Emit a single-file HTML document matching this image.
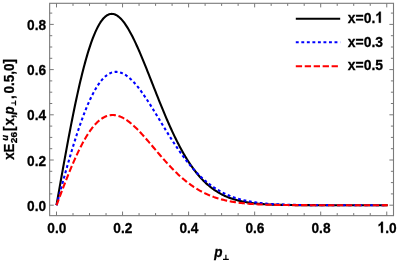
<!DOCTYPE html><html><head><meta charset="utf-8"><style>html,body{margin:0;padding:0;background:#fff}svg{display:block;filter:blur(0.3px)}text{font-family:"Liberation Sans",sans-serif;font-weight:bold;fill:#000;stroke:#000;stroke-width:0.3px}</style></head><body>
<svg width="398" height="262" viewBox="0 0 398 262">
<rect width="398" height="262" fill="#fff"/>
<path d="M56.50,205.20 L57.33,200.49 L58.15,195.78 L58.98,191.08 L59.80,186.39 L60.63,181.71 L61.45,177.05 L62.28,172.41 L63.11,167.78 L63.93,163.19 L64.76,158.62 L65.58,154.08 L66.41,149.57 L67.23,145.11 L68.06,140.68 L68.88,136.29 L69.71,131.95 L70.54,127.66 L71.36,123.42 L72.19,119.23 L73.01,115.10 L73.84,111.03 L74.66,107.01 L75.49,103.06 L76.31,99.18 L77.14,95.37 L77.97,91.62 L78.79,87.95 L79.62,84.35 L80.44,80.82 L81.27,77.38 L82.09,74.01 L82.92,70.73 L83.75,67.53 L84.57,64.41 L85.40,61.38 L86.22,58.44 L87.05,55.59 L87.87,52.82 L88.70,50.15 L89.53,47.57 L90.35,45.08 L91.18,42.69 L92.00,40.39 L92.83,38.18 L93.65,36.08 L94.48,34.06 L95.30,32.15 L96.13,30.33 L96.96,28.60 L97.78,26.98 L98.61,25.45 L99.43,24.02 L100.26,22.68 L101.08,21.45 L101.91,20.30 L102.74,19.26 L103.56,18.31 L104.39,17.45 L105.21,16.69 L106.04,16.02 L106.86,15.45 L107.69,14.97 L108.51,14.57 L109.34,14.27 L110.17,14.06 L110.99,13.93 L111.82,13.89 L112.64,13.94 L113.47,14.07 L114.29,14.28 L115.12,14.57 L115.94,14.95 L116.77,15.40 L117.60,15.93 L118.42,16.53 L119.25,17.21 L120.07,17.95 L120.90,18.77 L121.72,19.66 L122.55,20.61 L123.38,21.63 L124.20,22.71 L125.03,23.86 L125.85,25.06 L126.68,26.32 L127.50,27.63 L128.33,29.00 L129.16,30.42 L129.98,31.89 L130.81,33.40 L131.63,34.96 L132.46,36.57 L133.28,38.22 L134.11,39.91 L134.93,41.63 L135.76,43.39 L136.59,45.19 L137.41,47.02 L138.24,48.87 L139.06,50.76 L139.89,52.67 L140.71,54.61 L141.54,56.57 L142.37,58.55 L143.19,60.55 L144.02,62.57 L144.84,64.61 L145.67,66.65 L146.49,68.71 L147.32,70.79 L148.14,72.87 L148.97,74.95 L149.80,77.05 L150.62,79.14 L151.45,81.24 L152.27,83.35 L153.10,85.45 L153.92,87.55 L154.75,89.65 L155.57,91.74 L156.40,93.83 L157.23,95.91 L158.05,97.98 L158.88,100.05 L159.70,102.10 L160.53,104.15 L161.35,106.18 L162.18,108.20 L163.01,110.20 L163.83,112.19 L164.66,114.16 L165.48,116.12 L166.31,118.06 L167.13,119.98 L167.96,121.88 L168.79,123.76 L169.61,125.62 L170.44,127.46 L171.26,129.28 L172.09,131.08 L172.91,132.85 L173.74,134.60 L174.56,136.33 L175.39,138.03 L176.22,139.71 L177.04,141.36 L177.87,142.99 L178.69,144.60 L179.52,146.17 L180.34,147.73 L181.17,149.25 L182.00,150.75 L182.82,152.23 L183.65,153.68 L184.47,155.10 L185.30,156.49 L186.12,157.86 L186.95,159.21 L187.77,160.52 L188.60,161.81 L189.43,163.08 L190.25,164.32 L191.08,165.53 L191.90,166.71 L192.73,167.87 L193.55,169.01 L194.38,170.12 L195.20,171.20 L196.03,172.26 L196.86,173.29 L197.68,174.30 L198.51,175.29 L199.33,176.25 L200.16,177.19 L200.98,178.10 L201.81,179.00 L202.64,179.86 L203.46,180.71 L204.29,181.53 L205.11,182.33 L205.94,183.11 L206.76,183.87 L207.59,184.61 L208.42,185.33 L209.24,186.03 L210.07,186.70 L210.89,187.36 L211.72,188.00 L212.54,188.62 L213.37,189.22 L214.19,189.81 L215.02,190.37 L215.85,190.92 L216.67,191.46 L217.50,191.97 L218.32,192.47 L219.15,192.95 L219.97,193.42 L220.80,193.88 L221.62,194.31 L222.45,194.74 L223.28,195.15 L224.10,195.54 L224.93,195.93 L225.75,196.30 L226.58,196.65 L227.40,197.00 L228.23,197.33 L229.06,197.65 L229.88,197.96 L230.71,198.26 L231.53,198.55 L232.36,198.83 L233.18,199.10 L234.01,199.36 L234.84,199.60 L235.66,199.84 L236.49,200.07 L237.31,200.29 L238.14,200.51 L238.96,200.71 L239.79,200.91 L240.61,201.10 L241.44,201.28 L242.27,201.46 L243.09,201.62 L243.92,201.78 L244.74,201.94 L245.57,202.09 L246.39,202.23 L247.22,202.37 L248.04,202.50 L248.87,202.62 L249.70,202.74 L250.52,202.86 L251.35,202.97 L252.17,203.07 L253.00,203.18 L253.82,203.27 L254.65,203.36 L255.48,203.45 L256.30,203.54 L257.13,203.62 L257.95,203.70 L258.78,203.77 L259.60,203.84 L260.43,203.91 L261.25,203.97 L262.08,204.03 L262.91,204.09 L263.73,204.15 L264.56,204.20 L265.38,204.25 L266.21,204.30 L267.03,204.35 L267.86,204.39 L268.69,204.43 L269.51,204.47 L270.34,204.51 L271.16,204.55 L271.99,204.58 L272.81,204.62 L273.64,204.65 L274.47,204.68 L275.29,204.70 L276.12,204.73 L276.94,204.76 L277.77,204.78 L278.59,204.80 L279.42,204.83 L280.24,204.85 L281.07,204.87 L281.90,204.88 L282.72,204.90 L283.55,204.92 L284.37,204.93 L285.20,204.95 L286.02,204.96 L286.85,204.98 L287.67,204.99 L288.50,205.00 L289.33,205.01 L290.15,205.02 L290.98,205.03 L291.80,205.04 L292.63,205.05 L293.45,205.06 L294.28,205.07 L295.11,205.08 L295.93,205.08 L296.76,205.09 L297.58,205.10 L298.41,205.10 L299.23,205.11 L300.06,205.12 L300.88,205.12 L301.71,205.13 L302.54,205.13 L303.36,205.13 L304.19,205.14 L305.01,205.14 L305.84,205.15 L306.66,205.15 L307.49,205.15 L308.32,205.16 L309.14,205.16 L309.97,205.16 L310.79,205.16 L311.62,205.17 L312.44,205.17 L313.27,205.17 L314.10,205.17 L314.92,205.17 L315.75,205.18 L316.57,205.18 L317.40,205.18 L318.22,205.18 L319.05,205.18 L319.87,205.18 L320.70,205.18 L321.53,205.18 L322.35,205.19 L323.18,205.19 L324.00,205.19 L324.83,205.19 L325.65,205.19 L326.48,205.19 L327.31,205.19 L328.13,205.19 L328.96,205.19 L329.78,205.19 L330.61,205.19 L331.43,205.19 L332.26,205.19 L333.08,205.19 L333.91,205.19 L334.74,205.19 L335.56,205.20 L336.39,205.20 L337.21,205.20 L338.04,205.20 L338.86,205.20 L339.69,205.20 L340.51,205.20 L341.34,205.20 L342.17,205.20 L342.99,205.20 L343.82,205.20 L344.64,205.20 L345.47,205.20 L346.29,205.20 L347.12,205.20 L347.95,205.20 L348.77,205.20 L349.60,205.20 L350.42,205.20 L351.25,205.20 L352.07,205.20 L352.90,205.20 L353.73,205.20 L354.55,205.20 L355.38,205.20 L356.20,205.20 L357.03,205.20 L357.85,205.20 L358.68,205.20 L359.50,205.20 L360.33,205.20 L361.16,205.20 L361.98,205.20 L362.81,205.20 L363.63,205.20 L364.46,205.20 L365.28,205.20 L366.11,205.20 L366.94,205.20 L367.76,205.20 L368.59,205.20 L369.41,205.20 L370.24,205.20 L371.06,205.20 L371.89,205.20 L372.71,205.20 L373.54,205.20 L374.37,205.20 L375.19,205.20 L376.02,205.20 L376.84,205.20 L377.67,205.20 L378.49,205.20 L379.32,205.20 L380.14,205.20 L380.97,205.20 L381.80,205.20 L382.62,205.20 L383.45,205.20 L384.27,205.20 L385.10,205.20 L385.92,205.20 L386.75,205.20 L387.75,205.20" fill="none" stroke="#000000" stroke-width="2.1" stroke-linejoin="round"/>
<path d="M56.50,205.20 L57.33,202.16 L58.15,199.11 L58.98,196.07 L59.80,193.04 L60.63,190.01 L61.45,186.99 L62.28,183.99 L63.11,180.99 L63.93,178.01 L64.76,175.04 L65.58,172.09 L66.41,169.16 L67.23,166.25 L68.06,163.37 L68.88,160.50 L69.71,157.66 L70.54,154.85 L71.36,152.07 L72.19,149.32 L73.01,146.59 L73.84,143.91 L74.66,141.25 L75.49,138.63 L76.31,136.05 L77.14,133.51 L77.97,131.00 L78.79,128.54 L79.62,126.12 L80.44,123.74 L81.27,121.41 L82.09,119.12 L82.92,116.88 L83.75,114.68 L84.57,112.54 L85.40,110.44 L86.22,108.40 L87.05,106.40 L87.87,104.46 L88.70,102.57 L89.53,100.73 L90.35,98.95 L91.18,97.22 L92.00,95.55 L92.83,93.93 L93.65,92.37 L94.48,90.86 L95.30,89.42 L96.13,88.02 L96.96,86.69 L97.78,85.42 L98.61,84.20 L99.43,83.04 L100.26,81.94 L101.08,80.89 L101.91,79.91 L102.74,78.98 L103.56,78.11 L104.39,77.30 L105.21,76.55 L106.04,75.85 L106.86,75.21 L107.69,74.63 L108.51,74.11 L109.34,73.64 L110.17,73.23 L110.99,72.87 L111.82,72.57 L112.64,72.32 L113.47,72.13 L114.29,71.99 L115.12,71.90 L115.94,71.86 L116.77,71.88 L117.60,71.94 L118.42,72.06 L119.25,72.22 L120.07,72.44 L120.90,72.70 L121.72,73.00 L122.55,73.36 L123.38,73.75 L124.20,74.19 L125.03,74.68 L125.85,75.21 L126.68,75.77 L127.50,76.38 L128.33,77.03 L129.16,77.71 L129.98,78.43 L130.81,79.19 L131.63,79.98 L132.46,80.81 L133.28,81.67 L134.11,82.56 L134.93,83.48 L135.76,84.44 L136.59,85.42 L137.41,86.42 L138.24,87.46 L139.06,88.52 L139.89,89.60 L140.71,90.71 L141.54,91.84 L142.37,92.99 L143.19,94.15 L144.02,95.34 L144.84,96.55 L145.67,97.77 L146.49,99.01 L147.32,100.26 L148.14,101.53 L148.97,102.81 L149.80,104.10 L150.62,105.40 L151.45,106.72 L152.27,108.04 L153.10,109.36 L153.92,110.70 L154.75,112.04 L155.57,113.39 L156.40,114.74 L157.23,116.09 L158.05,117.45 L158.88,118.81 L159.70,120.16 L160.53,121.52 L161.35,122.88 L162.18,124.24 L163.01,125.59 L163.83,126.94 L164.66,128.29 L165.48,129.63 L166.31,130.97 L167.13,132.31 L167.96,133.63 L168.79,134.95 L169.61,136.26 L170.44,137.57 L171.26,138.86 L172.09,140.15 L172.91,141.43 L173.74,142.70 L174.56,143.95 L175.39,145.20 L176.22,146.44 L177.04,147.66 L177.87,148.87 L178.69,150.07 L179.52,151.26 L180.34,152.43 L181.17,153.59 L182.00,154.74 L182.82,155.87 L183.65,156.99 L184.47,158.09 L185.30,159.18 L186.12,160.25 L186.95,161.31 L187.77,162.36 L188.60,163.39 L189.43,164.40 L190.25,165.40 L191.08,166.39 L191.90,167.35 L192.73,168.31 L193.55,169.24 L194.38,170.16 L195.20,171.07 L196.03,171.96 L196.86,172.83 L197.68,173.69 L198.51,174.53 L199.33,175.35 L200.16,176.16 L200.98,176.96 L201.81,177.74 L202.64,178.50 L203.46,179.25 L204.29,179.98 L205.11,180.70 L205.94,181.40 L206.76,182.09 L207.59,182.76 L208.42,183.42 L209.24,184.06 L210.07,184.69 L210.89,185.31 L211.72,185.91 L212.54,186.49 L213.37,187.06 L214.19,187.62 L215.02,188.17 L215.85,188.70 L216.67,189.22 L217.50,189.73 L218.32,190.22 L219.15,190.70 L219.97,191.17 L220.80,191.62 L221.62,192.07 L222.45,192.50 L223.28,192.92 L224.10,193.33 L224.93,193.73 L225.75,194.12 L226.58,194.49 L227.40,194.86 L228.23,195.21 L229.06,195.56 L229.88,195.89 L230.71,196.22 L231.53,196.54 L232.36,196.84 L233.18,197.14 L234.01,197.43 L234.84,197.71 L235.66,197.98 L236.49,198.24 L237.31,198.50 L238.14,198.75 L238.96,198.99 L239.79,199.22 L240.61,199.44 L241.44,199.66 L242.27,199.87 L243.09,200.07 L243.92,200.27 L244.74,200.46 L245.57,200.64 L246.39,200.82 L247.22,200.99 L248.04,201.15 L248.87,201.31 L249.70,201.47 L250.52,201.62 L251.35,201.76 L252.17,201.90 L253.00,202.03 L253.82,202.16 L254.65,202.29 L255.48,202.41 L256.30,202.52 L257.13,202.63 L257.95,202.74 L258.78,202.84 L259.60,202.94 L260.43,203.04 L261.25,203.13 L262.08,203.22 L262.91,203.30 L263.73,203.39 L264.56,203.46 L265.38,203.54 L266.21,203.61 L267.03,203.68 L267.86,203.75 L268.69,203.81 L269.51,203.87 L270.34,203.93 L271.16,203.99 L271.99,204.05 L272.81,204.10 L273.64,204.15 L274.47,204.20 L275.29,204.24 L276.12,204.29 L276.94,204.33 L277.77,204.37 L278.59,204.41 L279.42,204.44 L280.24,204.48 L281.07,204.51 L281.90,204.55 L282.72,204.58 L283.55,204.61 L284.37,204.64 L285.20,204.66 L286.02,204.69 L286.85,204.71 L287.67,204.74 L288.50,204.76 L289.33,204.78 L290.15,204.80 L290.98,204.82 L291.80,204.84 L292.63,204.86 L293.45,204.88 L294.28,204.89 L295.11,204.91 L295.93,204.92 L296.76,204.94 L297.58,204.95 L298.41,204.96 L299.23,204.98 L300.06,204.99 L300.88,205.00 L301.71,205.01 L302.54,205.02 L303.36,205.03 L304.19,205.04 L305.01,205.05 L305.84,205.05 L306.66,205.06 L307.49,205.07 L308.32,205.08 L309.14,205.08 L309.97,205.09 L310.79,205.10 L311.62,205.10 L312.44,205.11 L313.27,205.11 L314.10,205.12 L314.92,205.12 L315.75,205.13 L316.57,205.13 L317.40,205.13 L318.22,205.14 L319.05,205.14 L319.87,205.14 L320.70,205.15 L321.53,205.15 L322.35,205.15 L323.18,205.16 L324.00,205.16 L324.83,205.16 L325.65,205.16 L326.48,205.17 L327.31,205.17 L328.13,205.17 L328.96,205.17 L329.78,205.17 L330.61,205.17 L331.43,205.18 L332.26,205.18 L333.08,205.18 L333.91,205.18 L334.74,205.18 L335.56,205.18 L336.39,205.18 L337.21,205.18 L338.04,205.19 L338.86,205.19 L339.69,205.19 L340.51,205.19 L341.34,205.19 L342.17,205.19 L342.99,205.19 L343.82,205.19 L344.64,205.19 L345.47,205.19 L346.29,205.19 L347.12,205.19 L347.95,205.19 L348.77,205.19 L349.60,205.19 L350.42,205.19 L351.25,205.19 L352.07,205.20 L352.90,205.20 L353.73,205.20 L354.55,205.20 L355.38,205.20 L356.20,205.20 L357.03,205.20 L357.85,205.20 L358.68,205.20 L359.50,205.20 L360.33,205.20 L361.16,205.20 L361.98,205.20 L362.81,205.20 L363.63,205.20 L364.46,205.20 L365.28,205.20 L366.11,205.20 L366.94,205.20 L367.76,205.20 L368.59,205.20 L369.41,205.20 L370.24,205.20 L371.06,205.20 L371.89,205.20 L372.71,205.20 L373.54,205.20 L374.37,205.20 L375.19,205.20 L376.02,205.20 L376.84,205.20 L377.67,205.20 L378.49,205.20 L379.32,205.20 L380.14,205.20 L380.97,205.20 L381.80,205.20 L382.62,205.20 L383.45,205.20 L384.27,205.20 L385.10,205.20 L385.92,205.20 L386.75,205.20" fill="none" stroke="#0000ff" stroke-width="2.1" stroke-dasharray="2.9 2.63" stroke-linejoin="round"/>
<path d="M56.50,205.20 L57.33,203.01 L58.15,200.83 L58.98,198.65 L59.80,196.47 L60.63,194.30 L61.45,192.13 L62.28,189.98 L63.11,187.83 L63.93,185.69 L64.76,183.57 L65.58,181.46 L66.41,179.37 L67.23,177.29 L68.06,175.23 L68.88,173.19 L69.71,171.17 L70.54,169.18 L71.36,167.20 L72.19,165.25 L73.01,163.32 L73.84,161.42 L74.66,159.55 L75.49,157.71 L76.31,155.90 L77.14,154.11 L77.97,152.36 L78.79,150.64 L79.62,148.96 L80.44,147.31 L81.27,145.69 L82.09,144.11 L82.92,142.57 L83.75,141.07 L84.57,139.60 L85.40,138.17 L86.22,136.78 L87.05,135.44 L87.87,134.13 L88.70,132.86 L89.53,131.64 L90.35,130.46 L91.18,129.32 L92.00,128.22 L92.83,127.17 L93.65,126.16 L94.48,125.20 L95.30,124.28 L96.13,123.40 L96.96,122.57 L97.78,121.78 L98.61,121.03 L99.43,120.33 L100.26,119.68 L101.08,119.07 L101.91,118.50 L102.74,117.98 L103.56,117.50 L104.39,117.06 L105.21,116.67 L106.04,116.32 L106.86,116.01 L107.69,115.75 L108.51,115.52 L109.34,115.34 L110.17,115.20 L110.99,115.10 L111.82,115.05 L112.64,115.03 L113.47,115.05 L114.29,115.10 L115.12,115.20 L115.94,115.33 L116.77,115.50 L117.60,115.71 L118.42,115.95 L119.25,116.22 L120.07,116.53 L120.90,116.87 L121.72,117.24 L122.55,117.65 L123.38,118.08 L124.20,118.55 L125.03,119.04 L125.85,119.57 L126.68,120.12 L127.50,120.69 L128.33,121.29 L129.16,121.92 L129.98,122.57 L130.81,123.24 L131.63,123.94 L132.46,124.66 L133.28,125.39 L134.11,126.15 L134.93,126.93 L135.76,127.72 L136.59,128.53 L137.41,129.35 L138.24,130.19 L139.06,131.05 L139.89,131.92 L140.71,132.80 L141.54,133.69 L142.37,134.60 L143.19,135.51 L144.02,136.43 L144.84,137.37 L145.67,138.31 L146.49,139.25 L147.32,140.20 L148.14,141.16 L148.97,142.12 L149.80,143.09 L150.62,144.06 L151.45,145.03 L152.27,146.01 L153.10,146.98 L153.92,147.96 L154.75,148.93 L155.57,149.91 L156.40,150.88 L157.23,151.85 L158.05,152.82 L158.88,153.79 L159.70,154.75 L160.53,155.71 L161.35,156.66 L162.18,157.61 L163.01,158.55 L163.83,159.49 L164.66,160.42 L165.48,161.34 L166.31,162.26 L167.13,163.17 L167.96,164.07 L168.79,164.96 L169.61,165.84 L170.44,166.72 L171.26,167.58 L172.09,168.44 L172.91,169.28 L173.74,170.12 L174.56,170.94 L175.39,171.76 L176.22,172.56 L177.04,173.35 L177.87,174.14 L178.69,174.91 L179.52,175.67 L180.34,176.41 L181.17,177.15 L182.00,177.87 L182.82,178.59 L183.65,179.29 L184.47,179.98 L185.30,180.65 L186.12,181.32 L186.95,181.97 L187.77,182.61 L188.60,183.24 L189.43,183.86 L190.25,184.46 L191.08,185.05 L191.90,185.63 L192.73,186.20 L193.55,186.76 L194.38,187.30 L195.20,187.84 L196.03,188.36 L196.86,188.87 L197.68,189.37 L198.51,189.86 L199.33,190.33 L200.16,190.80 L200.98,191.25 L201.81,191.69 L202.64,192.12 L203.46,192.55 L204.29,192.96 L205.11,193.36 L205.94,193.75 L206.76,194.13 L207.59,194.50 L208.42,194.86 L209.24,195.21 L210.07,195.55 L210.89,195.88 L211.72,196.20 L212.54,196.52 L213.37,196.82 L214.19,197.12 L215.02,197.40 L215.85,197.68 L216.67,197.95 L217.50,198.22 L218.32,198.47 L219.15,198.72 L219.97,198.96 L220.80,199.19 L221.62,199.41 L222.45,199.63 L223.28,199.84 L224.10,200.05 L224.93,200.25 L225.75,200.44 L226.58,200.62 L227.40,200.80 L228.23,200.97 L229.06,201.14 L229.88,201.30 L230.71,201.46 L231.53,201.61 L232.36,201.75 L233.18,201.89 L234.01,202.03 L234.84,202.16 L235.66,202.28 L236.49,202.40 L237.31,202.52 L238.14,202.63 L238.96,202.74 L239.79,202.85 L240.61,202.95 L241.44,203.04 L242.27,203.14 L243.09,203.23 L243.92,203.31 L244.74,203.40 L245.57,203.47 L246.39,203.55 L247.22,203.62 L248.04,203.69 L248.87,203.76 L249.70,203.83 L250.52,203.89 L251.35,203.95 L252.17,204.01 L253.00,204.06 L253.82,204.11 L254.65,204.16 L255.48,204.21 L256.30,204.26 L257.13,204.30 L257.95,204.35 L258.78,204.39 L259.60,204.43 L260.43,204.46 L261.25,204.50 L262.08,204.53 L262.91,204.57 L263.73,204.60 L264.56,204.63 L265.38,204.65 L266.21,204.68 L267.03,204.71 L267.86,204.73 L268.69,204.76 L269.51,204.78 L270.34,204.80 L271.16,204.82 L271.99,204.84 L272.81,204.86 L273.64,204.88 L274.47,204.89 L275.29,204.91 L276.12,204.92 L276.94,204.94 L277.77,204.95 L278.59,204.96 L279.42,204.98 L280.24,204.99 L281.07,205.00 L281.90,205.01 L282.72,205.02 L283.55,205.03 L284.37,205.04 L285.20,205.05 L286.02,205.06 L286.85,205.07 L287.67,205.07 L288.50,205.08 L289.33,205.09 L290.15,205.09 L290.98,205.10 L291.80,205.10 L292.63,205.11 L293.45,205.11 L294.28,205.12 L295.11,205.12 L295.93,205.13 L296.76,205.13 L297.58,205.14 L298.41,205.14 L299.23,205.14 L300.06,205.15 L300.88,205.15 L301.71,205.15 L302.54,205.16 L303.36,205.16 L304.19,205.16 L305.01,205.16 L305.84,205.17 L306.66,205.17 L307.49,205.17 L308.32,205.17 L309.14,205.17 L309.97,205.17 L310.79,205.18 L311.62,205.18 L312.44,205.18 L313.27,205.18 L314.10,205.18 L314.92,205.18 L315.75,205.18 L316.57,205.18 L317.40,205.19 L318.22,205.19 L319.05,205.19 L319.87,205.19 L320.70,205.19 L321.53,205.19 L322.35,205.19 L323.18,205.19 L324.00,205.19 L324.83,205.19 L325.65,205.19 L326.48,205.19 L327.31,205.19 L328.13,205.19 L328.96,205.19 L329.78,205.19 L330.61,205.20 L331.43,205.20 L332.26,205.20 L333.08,205.20 L333.91,205.20 L334.74,205.20 L335.56,205.20 L336.39,205.20 L337.21,205.20 L338.04,205.20 L338.86,205.20 L339.69,205.20 L340.51,205.20 L341.34,205.20 L342.17,205.20 L342.99,205.20 L343.82,205.20 L344.64,205.20 L345.47,205.20 L346.29,205.20 L347.12,205.20 L347.95,205.20 L348.77,205.20 L349.60,205.20 L350.42,205.20 L351.25,205.20 L352.07,205.20 L352.90,205.20 L353.73,205.20 L354.55,205.20 L355.38,205.20 L356.20,205.20 L357.03,205.20 L357.85,205.20 L358.68,205.20 L359.50,205.20 L360.33,205.20 L361.16,205.20 L361.98,205.20 L362.81,205.20 L363.63,205.20 L364.46,205.20 L365.28,205.20 L366.11,205.20 L366.94,205.20 L367.76,205.20 L368.59,205.20 L369.41,205.20 L370.24,205.20 L371.06,205.20 L371.89,205.20 L372.71,205.20 L373.54,205.20 L374.37,205.20 L375.19,205.20 L376.02,205.20 L376.84,205.20 L377.67,205.20 L378.49,205.20 L379.32,205.20 L380.14,205.20 L380.97,205.20 L381.80,205.20 L382.62,205.20 L383.45,205.20 L384.27,205.20 L385.10,205.20 L385.92,205.20 L386.75,205.20" fill="none" stroke="#ff0000" stroke-width="2.1" stroke-dasharray="6.3 2.65" stroke-linejoin="round"/>
<line x1="382.75" y1="205.20" x2="387.75" y2="205.20" stroke="#ff0000" stroke-width="2"/>
<g stroke="#7a7a7a" stroke-width="1.10" fill="none">
<rect x="49.65" y="3.30" width="343.85" height="212.35"/>
</g><g stroke="#787878" stroke-width="1" fill="none">
<line x1="56.50" y1="215.65" x2="56.50" y2="211.55"/>
<line x1="56.50" y1="3.30" x2="56.50" y2="7.40"/>
<line x1="73.01" y1="215.65" x2="73.01" y2="213.05"/>
<line x1="73.01" y1="3.30" x2="73.01" y2="5.90"/>
<line x1="89.53" y1="215.65" x2="89.53" y2="213.05"/>
<line x1="89.53" y1="3.30" x2="89.53" y2="5.90"/>
<line x1="106.04" y1="215.65" x2="106.04" y2="213.05"/>
<line x1="106.04" y1="3.30" x2="106.04" y2="5.90"/>
<line x1="122.55" y1="215.65" x2="122.55" y2="211.55"/>
<line x1="122.55" y1="3.30" x2="122.55" y2="7.40"/>
<line x1="139.06" y1="215.65" x2="139.06" y2="213.05"/>
<line x1="139.06" y1="3.30" x2="139.06" y2="5.90"/>
<line x1="155.58" y1="215.65" x2="155.58" y2="213.05"/>
<line x1="155.58" y1="3.30" x2="155.58" y2="5.90"/>
<line x1="172.09" y1="215.65" x2="172.09" y2="213.05"/>
<line x1="172.09" y1="3.30" x2="172.09" y2="5.90"/>
<line x1="188.60" y1="215.65" x2="188.60" y2="211.55"/>
<line x1="188.60" y1="3.30" x2="188.60" y2="7.40"/>
<line x1="205.11" y1="215.65" x2="205.11" y2="213.05"/>
<line x1="205.11" y1="3.30" x2="205.11" y2="5.90"/>
<line x1="221.62" y1="215.65" x2="221.62" y2="213.05"/>
<line x1="221.62" y1="3.30" x2="221.62" y2="5.90"/>
<line x1="238.14" y1="215.65" x2="238.14" y2="213.05"/>
<line x1="238.14" y1="3.30" x2="238.14" y2="5.90"/>
<line x1="254.65" y1="215.65" x2="254.65" y2="211.55"/>
<line x1="254.65" y1="3.30" x2="254.65" y2="7.40"/>
<line x1="271.16" y1="215.65" x2="271.16" y2="213.05"/>
<line x1="271.16" y1="3.30" x2="271.16" y2="5.90"/>
<line x1="287.68" y1="215.65" x2="287.68" y2="213.05"/>
<line x1="287.68" y1="3.30" x2="287.68" y2="5.90"/>
<line x1="304.19" y1="215.65" x2="304.19" y2="213.05"/>
<line x1="304.19" y1="3.30" x2="304.19" y2="5.90"/>
<line x1="320.70" y1="215.65" x2="320.70" y2="211.55"/>
<line x1="320.70" y1="3.30" x2="320.70" y2="7.40"/>
<line x1="337.21" y1="215.65" x2="337.21" y2="213.05"/>
<line x1="337.21" y1="3.30" x2="337.21" y2="5.90"/>
<line x1="353.73" y1="215.65" x2="353.73" y2="213.05"/>
<line x1="353.73" y1="3.30" x2="353.73" y2="5.90"/>
<line x1="370.24" y1="215.65" x2="370.24" y2="213.05"/>
<line x1="370.24" y1="3.30" x2="370.24" y2="5.90"/>
<line x1="386.75" y1="215.65" x2="386.75" y2="211.55"/>
<line x1="386.75" y1="3.30" x2="386.75" y2="7.40"/>
<line x1="49.65" y1="205.20" x2="53.75" y2="205.20"/>
<line x1="393.50" y1="205.20" x2="389.40" y2="205.20"/>
<line x1="49.65" y1="193.90" x2="52.25" y2="193.90"/>
<line x1="393.50" y1="193.90" x2="390.90" y2="193.90"/>
<line x1="49.65" y1="182.60" x2="52.25" y2="182.60"/>
<line x1="393.50" y1="182.60" x2="390.90" y2="182.60"/>
<line x1="49.65" y1="171.30" x2="52.25" y2="171.30"/>
<line x1="393.50" y1="171.30" x2="390.90" y2="171.30"/>
<line x1="49.65" y1="160.00" x2="53.75" y2="160.00"/>
<line x1="393.50" y1="160.00" x2="389.40" y2="160.00"/>
<line x1="49.65" y1="148.70" x2="52.25" y2="148.70"/>
<line x1="393.50" y1="148.70" x2="390.90" y2="148.70"/>
<line x1="49.65" y1="137.40" x2="52.25" y2="137.40"/>
<line x1="393.50" y1="137.40" x2="390.90" y2="137.40"/>
<line x1="49.65" y1="126.10" x2="52.25" y2="126.10"/>
<line x1="393.50" y1="126.10" x2="390.90" y2="126.10"/>
<line x1="49.65" y1="114.80" x2="53.75" y2="114.80"/>
<line x1="393.50" y1="114.80" x2="389.40" y2="114.80"/>
<line x1="49.65" y1="103.50" x2="52.25" y2="103.50"/>
<line x1="393.50" y1="103.50" x2="390.90" y2="103.50"/>
<line x1="49.65" y1="92.20" x2="52.25" y2="92.20"/>
<line x1="393.50" y1="92.20" x2="390.90" y2="92.20"/>
<line x1="49.65" y1="80.90" x2="52.25" y2="80.90"/>
<line x1="393.50" y1="80.90" x2="390.90" y2="80.90"/>
<line x1="49.65" y1="69.60" x2="53.75" y2="69.60"/>
<line x1="393.50" y1="69.60" x2="389.40" y2="69.60"/>
<line x1="49.65" y1="58.30" x2="52.25" y2="58.30"/>
<line x1="393.50" y1="58.30" x2="390.90" y2="58.30"/>
<line x1="49.65" y1="47.00" x2="52.25" y2="47.00"/>
<line x1="393.50" y1="47.00" x2="390.90" y2="47.00"/>
<line x1="49.65" y1="35.70" x2="52.25" y2="35.70"/>
<line x1="393.50" y1="35.70" x2="390.90" y2="35.70"/>
<line x1="49.65" y1="24.40" x2="53.75" y2="24.40"/>
<line x1="393.50" y1="24.40" x2="389.40" y2="24.40"/>
<line x1="49.65" y1="13.10" x2="52.25" y2="13.10"/>
<line x1="393.50" y1="13.10" x2="390.90" y2="13.10"/>
</g>
<text transform="translate(56.80,232.80) scale(0.890,1)" font-size="15.40" text-anchor="middle">0.0</text>
<text transform="translate(122.85,232.80) scale(0.890,1)" font-size="15.40" text-anchor="middle">0.2</text>
<text transform="translate(188.90,232.80) scale(0.890,1)" font-size="15.40" text-anchor="middle">0.4</text>
<text transform="translate(254.95,232.80) scale(0.890,1)" font-size="15.40" text-anchor="middle">0.6</text>
<text transform="translate(321.00,232.80) scale(0.890,1)" font-size="15.40" text-anchor="middle">0.8</text>
<path transform="translate(377.52,232.80) scale(13.706,15.400)" d="M0.394,0 L0.253,0 L0.253,-0.530 C0.20,-0.48 0.14,-0.445 0.079,-0.424 L0.079,-0.547 C0.12,-0.56 0.165,-0.585 0.205,-0.62 C0.245,-0.655 0.27,-0.69 0.279,-0.719 L0.394,-0.719 Z" fill="#000" stroke="#000" stroke-width="0.0195"/>
<text transform="translate(385.14,232.80) scale(0.890,1)" font-size="15.40" text-anchor="start">.0</text>
<text transform="translate(46.10,210.80) scale(0.890,1)" font-size="15.40" text-anchor="end">0.0</text>
<text transform="translate(46.10,165.60) scale(0.890,1)" font-size="15.40" text-anchor="end">0.2</text>
<text transform="translate(46.10,120.40) scale(0.890,1)" font-size="15.40" text-anchor="end">0.4</text>
<text transform="translate(46.10,75.20) scale(0.890,1)" font-size="15.40" text-anchor="end">0.6</text>
<text transform="translate(46.10,30.00) scale(0.890,1)" font-size="15.40" text-anchor="end">0.8</text>
<text transform="translate(214.30,257.40) scale(0.875,1)" font-size="15.40" text-anchor="start" font-style="italic">p</text>
<path d="M223.0 259.4 H228.8 M225.9 259.4 V254.8" stroke="#000" stroke-width="1.2" fill="none"/>
<text transform="translate(14.30,159.80) rotate(-90) scale(0.865,1)" font-size="15.40">xE</text>
<text transform="translate(17.00,143.20) rotate(-90) scale(1.030,1)" font-size="9.80">26</text>
<text transform="translate(8.00,140.70) rotate(-90) scale(1.150,1)" font-size="8.30" font-style="italic">u</text>
<text transform="translate(14.30,130.90) rotate(-90) scale(0.865,1)" font-size="15.40">[</text>
<text transform="translate(14.30,125.60) rotate(-90) scale(0.865,1)" font-size="15.40">x,</text>
<text transform="translate(14.30,114.50) rotate(-90) scale(0.865,1)" font-size="15.40" font-style="italic">p</text>
<path d="M15.5 100.5 V105.5 M15.5 103.0 H11.2" stroke="#000" stroke-width="1.2" fill="none"/>
<text transform="translate(14.30,99.10) rotate(-90) scale(0.865,1)" font-size="15.40">,</text>
<text transform="translate(14.30,93.50) rotate(-90) scale(0.877,1)" font-size="15.40">0.5,0]</text>
<line x1="295.8" y1="18.80" x2="340.2" y2="18.80" stroke="#000000" stroke-width="2"/>
<text transform="translate(347.80,22.70) scale(0.905,1)" font-size="15.40" text-anchor="start">x=0.</text>
<path transform="translate(375.31,22.70) scale(13.937,15.400)" d="M0.394,0 L0.253,0 L0.253,-0.530 C0.20,-0.48 0.14,-0.445 0.079,-0.424 L0.079,-0.547 C0.12,-0.56 0.165,-0.585 0.205,-0.62 C0.245,-0.655 0.27,-0.69 0.279,-0.719 L0.394,-0.719 Z" fill="#000" stroke="#000" stroke-width="0.0195"/>
<line x1="295.8" y1="42.30" x2="340.2" y2="42.30" stroke="#0000ff" stroke-width="2" stroke-dasharray="2.9 2.63"/>
<text transform="translate(347.80,46.60) scale(0.905,1)" font-size="15.40" text-anchor="start">x=0.3</text>
<line x1="295.8" y1="66.30" x2="340.2" y2="66.30" stroke="#ff0000" stroke-width="2" stroke-dasharray="6.3 2.65"/>
<text transform="translate(347.80,70.20) scale(0.905,1)" font-size="15.40" text-anchor="start">x=0.5</text>
</svg></body></html>
